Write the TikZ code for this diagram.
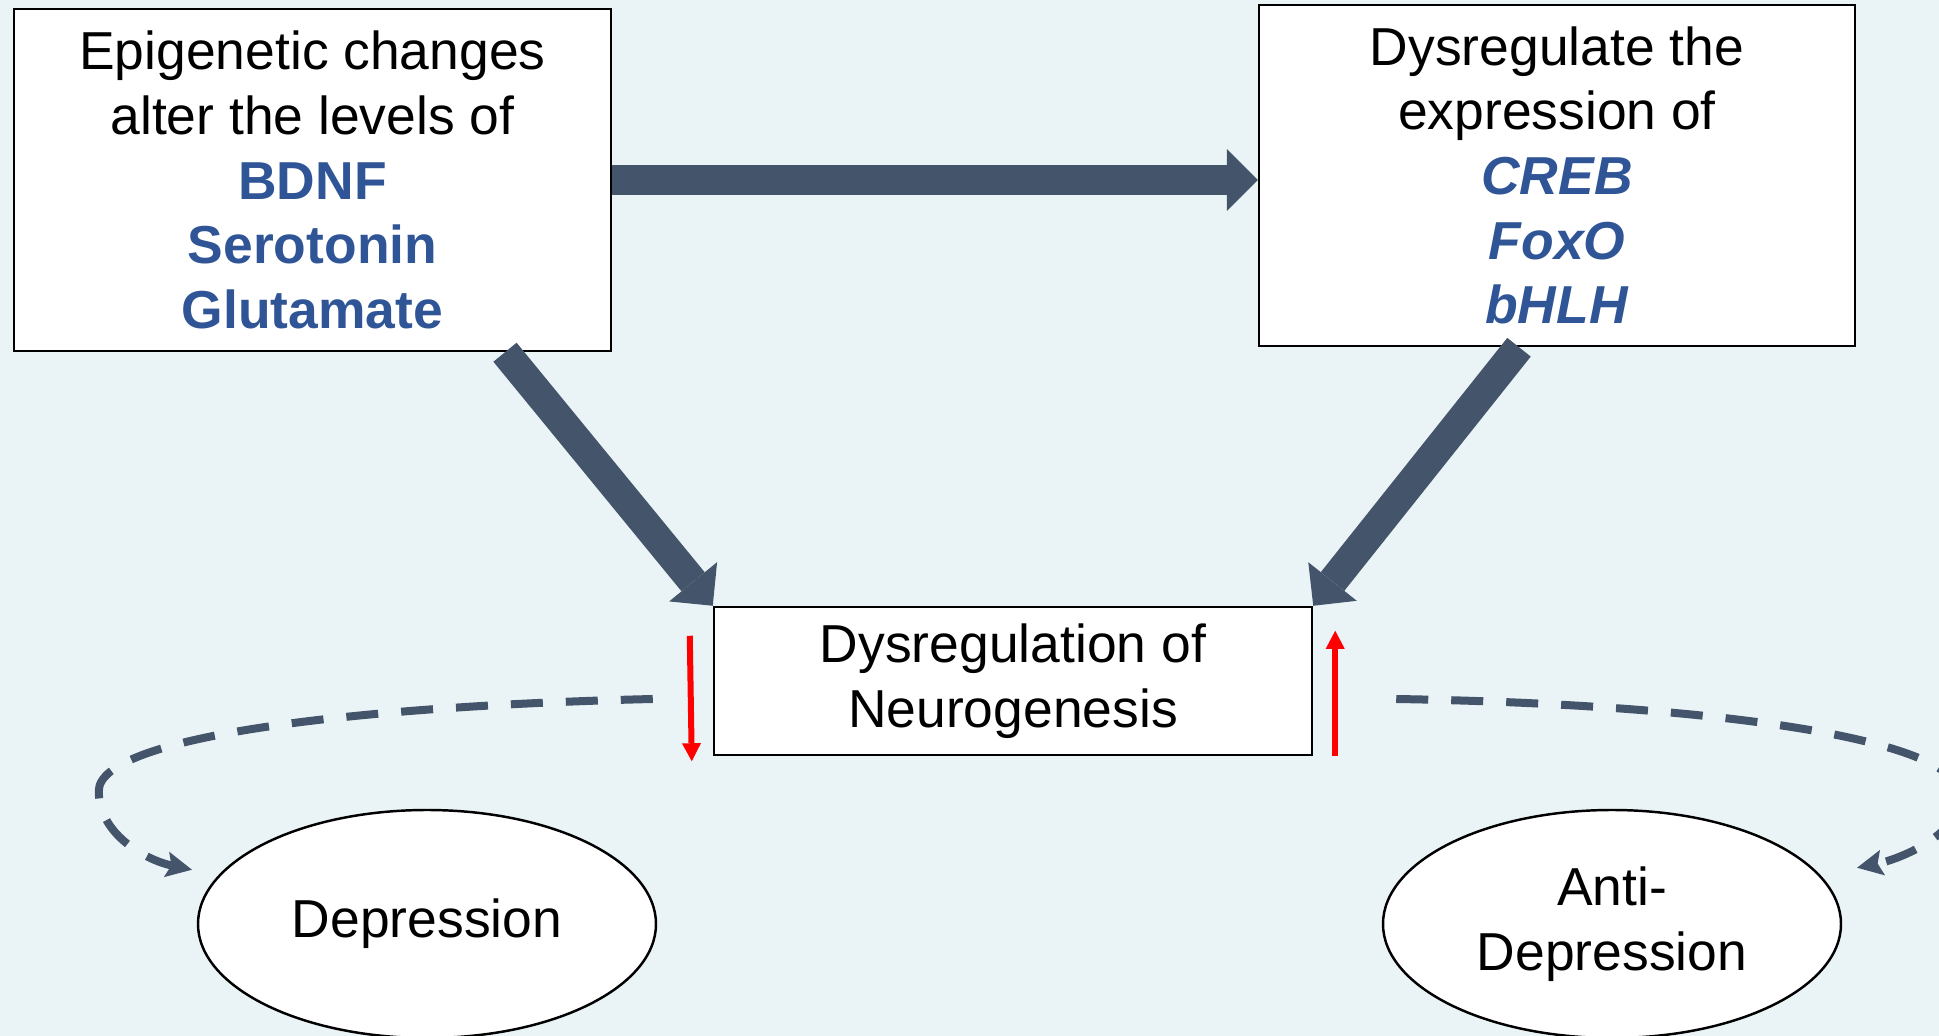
\documentclass[tikz,border=0pt]{standalone}
\usepackage{fontspec}
\setmainfont{Liberation Sans}
\usepackage{tikz}
\usetikzlibrary{arrows.meta,shapes.geometric}

\begin{document}
\begin{tikzpicture}[
    box/.style={draw=black, line width=0.7pt, fill=white, align=center, inner sep=0pt,
        font=\fontsize{15.2}{18.4}\selectfont},
    oval/.style={ellipse, draw=black, line width=0.7pt, fill=white, align=center, inner sep=0pt,
        minimum width=4.58cm, minimum height=2.28cm, font=\fontsize{15.2}{18.4}\selectfont},
    bigarrow/.style={draw=arrowCol, line width=0.3cm,
        -{Triangle[length=0.31cm,width=0.62cm,line width=0pt]}},
    loopline/.style={draw=arrowCol, line width=0.08cm, dash pattern=on 0.32cm off 0.23cm,
        -{Stealth[length=0.26cm,width=0.26cm,inset=0.05cm,line width=0pt]}},
    updown/.style={draw=red, line width=0.06cm,
        -{Triangle[length=0.18cm,width=0.19cm,line width=0pt]}}
    ]
            \definecolor{bgCol}{HTML}{EAF3F6}
            \definecolor{arrowCol}{HTML}{44546A}
            \definecolor{geneCol}{HTML}{2F5597}

            \fill[bgCol] (0,0) rectangle (19.39,10.36);
            \useasboundingbox (0,0) rectangle (19.39,10.36);

            % boxes
            \node[box, minimum width=5.97cm, minimum height=3.42cm] (levels) at (3.125,8.56)
                {Epigenetic changes\\alter the levels of\\
                 \textcolor{geneCol}{\textbf{BDNF}}\\
                 \textcolor{geneCol}{\textbf{Serotonin}}\\
                 \textcolor{geneCol}{\textbf{Glutamate}}};
            \node[box, minimum width=5.96cm, minimum height=3.41cm] (expr) at (15.57,8.605)
                {Dysregulate the\\expression of\\
                 \textcolor{geneCol}{\textbf{\textit{CREB}}}\\
                 \textcolor{geneCol}{\textbf{\textit{FoxO}}}\\
                 \textcolor{geneCol}{\textbf{\textit{bHLH}}}};
            \node[box, minimum width=5.98cm, minimum height=1.48cm] (neuro) at (10.13,3.55)
                {Dysregulation of\\Neurogenesis};
            \node[oval] (dep) at (4.27,1.12) {Depression};
            \node[oval] (anti) at (16.12,1.12) {Anti-\\Depression};

            % thick arrows
            \draw[bigarrow] (levels.east) -- (levels.east -| expr.west);
            \draw[bigarrow] ([xshift=1.925cm]levels.south) -- (neuro.north west);
            \draw[bigarrow] ([xshift=-0.38cm]expr.south) -- (neuro.north east);

            % down / up
            \draw[updown] ([shift={(-0.23,-0.30)}]neuro.north west) -- ([shift={(-0.21,-0.05)}]neuro.south west);
            \draw[updown] ([shift={(0.22,0)}]neuro.south east) -- ([shift={(0.22,-0.25)}]neuro.north east);

            % dashed loops
            \draw[loopline] ([shift={(-0.6,-0.18)}]neuro.west)
                .. controls +(-2.95,-0.07) and +(0,0.55) .. ([shift={(-0.98,1.33)}]dep.west)
                .. controls +(0,-0.45) and +(-0.43,0.09) .. ([shift={(-0.26,0.06)}]dep.167);
            \draw[loopline] ([shift={(0.83,-0.18)}]neuro.east)
                .. controls +(3.0,-0.05) and +(0,0.6) .. ([shift={(1.18,1.28)}]anti.east)
                .. controls +(0,-0.4) and +(0.4,0.08) .. ([shift={(0.36,0.08)}]anti.13);
        \end{tikzpicture}
\end{document}
